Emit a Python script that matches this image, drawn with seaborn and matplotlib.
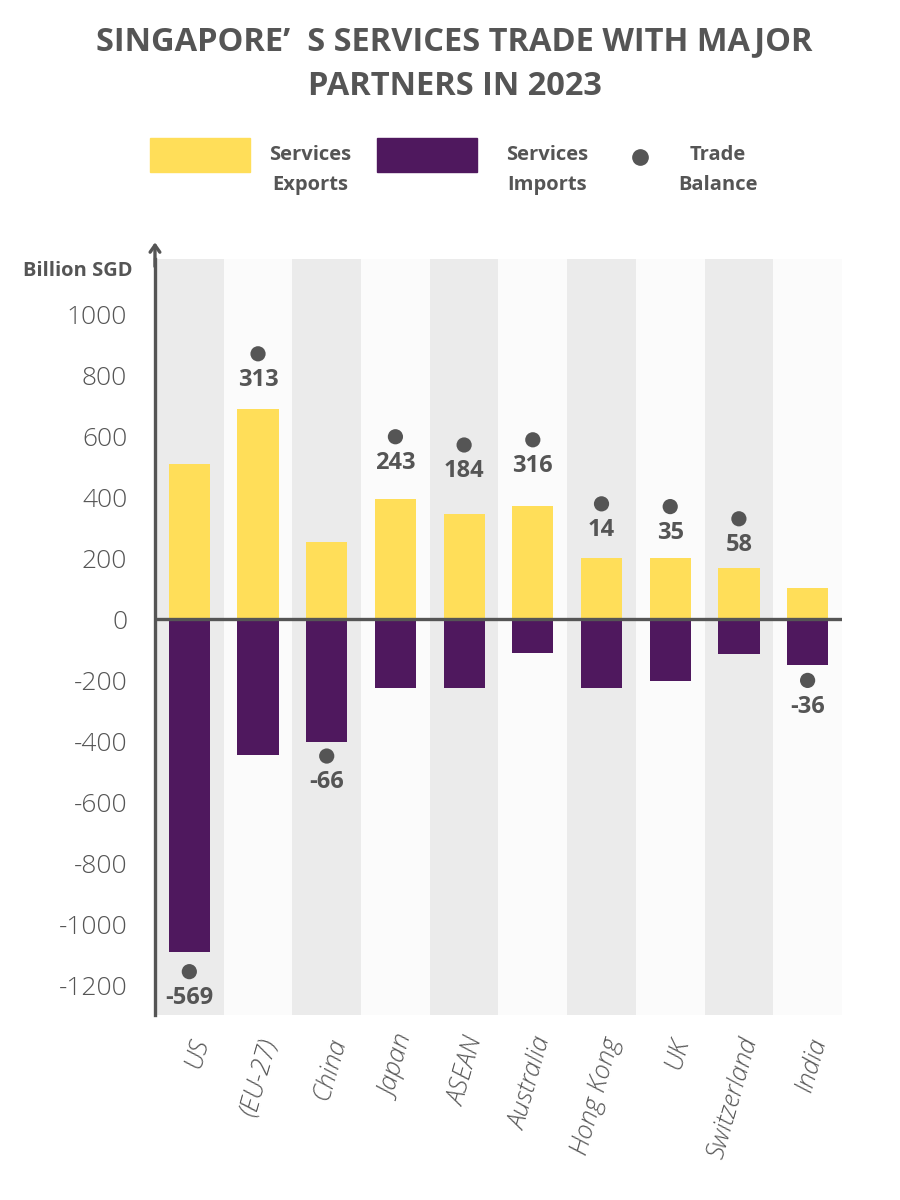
import matplotlib
matplotlib.use("Agg")
import matplotlib.pyplot as plt
from matplotlib.patches import Rectangle
from matplotlib.lines import Line2D
import seaborn as sns
import pandas as pd

# values (billion SGD)
partners = ["US", "(EU-27)", "China", "Japan", "ASEAN", "Australia",
            "Hong Kong", "UK", "Switzerland", "India"]
exports = [510, 689, 255, 395, 347, 372, 203, 203, 168, 104]
imports = [1089, 446, 401, 224, 224, 109, 224, 202, 112, 149]
balance = [-569, 313, -66, 243, 184, 316, 14, 35, 58, -36]
# height at which each balance marker sits in the original
balance_marker_y = [-1155, 871, -448, 599, 572, 589, 379, 370, 330, -200]

YELLOW = "#FFDE59"
PURPLE = "#4F185E"
GREY = "#555555"
BAND_DARK = "#EBEBEB"
BAND_LIGHT = "#FBFBFB"

sns.set_style("white")
plt.rcParams["font.family"] = ["Open Sans", "DejaVu Sans"]
plt.rcParams["axes.unicode_minus"] = False

df = pd.DataFrame({
    "partner": partners * 2,
    "series": ["Services Exports"] * len(partners) + ["Services Imports"] * len(partners),
    "value": exports + [-v for v in imports],
})
df["partner"] = pd.Categorical(df["partner"], categories=partners, ordered=True)

dots = pd.DataFrame({"partner": pd.Categorical(partners, categories=partners, ordered=True),
                     "y": balance_marker_y})

fig = plt.figure(figsize=(9, 12), dpi=100)
fig.patch.set_facecolor("white")
ax = fig.add_axes([0.1722, 0.1542, 0.7633, 0.63])

for i in range(len(partners)):
    ax.axvspan(i - 0.5, i + 0.5, color=BAND_DARK if i % 2 == 0 else BAND_LIGHT, lw=0, zorder=0)

sns.barplot(data=df, x="partner", y="value", hue="series",
            palette={"Services Exports": YELLOW, "Services Imports": PURPLE},
            dodge=False, width=0.6, saturation=1, legend=False, ax=ax, zorder=2,
            linewidth=0, edgecolor="none")

ax.axhline(0, color=GREY, lw=2.4, zorder=3)

sns.scatterplot(data=dots, x="partner", y="y", s=120, color=GREY,
                edgecolor="none", ax=ax, zorder=4, legend=False)

for i, (yv, lab) in enumerate(zip(balance_marker_y, balance)):
    ax.annotate(str(lab), (i, yv), xytext=(0, -19), textcoords="offset points",
                ha="center", va="center", fontsize=17, fontweight="bold",
                color=GREY, zorder=5)

ax.set_xlim(-0.5, len(partners) - 0.5)
ax.set_ylim(-1297, 1182)
ax.set_yticks(range(-1200, 1001, 200))
ax.set_xlabel("")
ax.set_ylabel("")

for s in ["top", "right", "bottom"]:
    ax.spines[s].set_visible(False)
ax.spines["left"].set_color(GREY)
ax.spines["left"].set_linewidth(2.4)

ax.tick_params(axis="y", length=13, width=2.4, color=GREY, pad=7,
               labelsize=19, labelcolor=GREY)
ax.tick_params(axis="x", length=0, pad=14)
for lbl in ax.get_yticklabels():
    lbl.set_fontweight("light")
ax.set_xticks(range(len(partners)))
ax.set_xticklabels(partners, rotation=74, ha="right", rotation_mode="anchor",
                   fontsize=18.5, style="italic", fontweight="light", color=GREY)

# arrow head on the y axis
ax.annotate("", xy=(0, 1.022), xytext=(0, 0.99), xycoords="axes fraction",
            arrowprops=dict(arrowstyle="->,head_length=0.5,head_width=0.35",
                            lw=2.4, color=GREY, shrinkA=0, shrinkB=0))

fig.text(78 / 900, 1 - 271 / 1200, "Billion SGD", ha="center", va="center",
         fontsize=14.5, fontweight="bold", color=GREY)

# title
fig.text(0.505, 1 - 64 / 1200, "SINGAPORE’  S SERVICES TRADE WITH MAJOR\nPARTNERS IN 2023",
         ha="center", va="center", fontsize=23.5, fontweight="bold", color=GREY,
         linespacing=1.45)

# legend
fig.patches.append(Rectangle((150 / 900, 1 - 172 / 1200), 100 / 900, 34 / 1200,
                             transform=fig.transFigure, color=YELLOW))
fig.patches.append(Rectangle((377 / 900, 1 - 172 / 1200), 100 / 900, 34 / 1200,
                             transform=fig.transFigure, color=PURPLE))
fig.add_artist(Line2D([640 / 900], [1 - 157 / 1200], marker="o", ms=11, color=GREY,
                      transform=fig.transFigure))
for xc, txt in [(310, "Services\nExports"), (547, "Services\nImports"), (718, "Trade\nBalance")]:
    fig.text(xc / 900, 1 - 170 / 1200, txt, ha="center", va="center", fontsize=14.5,
             fontweight="bold", color=GREY, linespacing=1.65)

fig.savefig("out.png", dpi=100, facecolor="white")
